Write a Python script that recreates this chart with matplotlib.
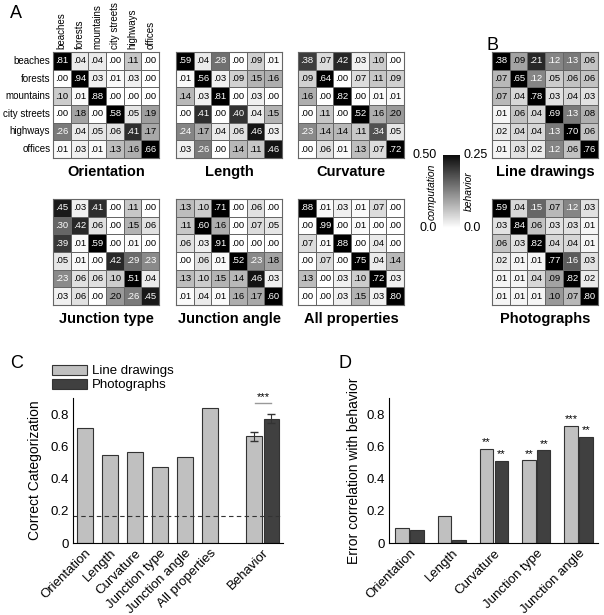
import matplotlib
matplotlib.use('Agg')
import matplotlib.pyplot as plt
import numpy as np

plt.rcParams['font.family'] = ['Liberation Sans', 'DejaVu Sans']

categories = ['beaches', 'forests', 'mountains', 'city streets', 'highways', 'offices']

orientation = [[.81, .04, .04, .00, .11, .00],
               [.00, .94, .03, .01, .03, .00],
               [.10, .01, .88, .00, .00, .00],
               [.00, .18, .00, .58, .05, .19],
               [.26, .04, .05, .06, .41, .17],
               [.01, .03, .01, .13, .16, .66]]
length = [[.59, .04, .28, .00, .09, .01],
          [.01, .56, .03, .09, .15, .16],
          [.14, .03, .81, .00, .03, .00],
          [.00, .41, .00, .40, .04, .15],
          [.24, .17, .04, .06, .46, .03],
          [.03, .26, .00, .14, .11, .46]]
curvature = [[.38, .07, .42, .03, .10, .00],
             [.09, .64, .00, .07, .11, .09],
             [.16, .00, .82, .00, .01, .01],
             [.00, .11, .00, .52, .16, .20],
             [.23, .14, .14, .11, .34, .05],
             [.00, .06, .01, .13, .07, .72]]
line_drawings = [[.38, .09, .21, .12, .13, .06],
                 [.07, .65, .12, .05, .06, .06],
                 [.07, .04, .78, .03, .04, .03],
                 [.01, .06, .04, .69, .13, .08],
                 [.02, .04, .04, .13, .70, .06],
                 [.01, .03, .02, .12, .06, .76]]
junction_type = [[.45, .03, .41, .00, .11, .00],
                 [.30, .42, .06, .00, .15, .06],
                 [.39, .01, .59, .00, .01, .00],
                 [.05, .01, .00, .42, .29, .23],
                 [.23, .06, .06, .10, .51, .04],
                 [.03, .06, .00, .20, .26, .45]]
junction_angle = [[.13, .10, .71, .00, .06, .00],
                  [.11, .60, .16, .00, .07, .05],
                  [.06, .03, .91, .00, .00, .00],
                  [.00, .06, .01, .52, .23, .18],
                  [.13, .10, .15, .14, .46, .03],
                  [.01, .04, .01, .16, .17, .60]]
all_properties = [[.88, .01, .03, .01, .07, .00],
                  [.00, .99, .00, .01, .00, .00],
                  [.07, .01, .88, .00, .04, .00],
                  [.00, .07, .00, .75, .04, .14],
                  [.13, .00, .03, .10, .72, .03],
                  [.00, .00, .03, .15, .03, .80]]
photographs = [[.59, .04, .15, .07, .12, .03],
               [.03, .84, .06, .03, .03, .01],
               [.06, .03, .82, .04, .04, .01],
               [.02, .01, .01, .77, .16, .03],
               [.01, .01, .04, .09, .82, .02],
               [.01, .01, .01, .10, .07, .80]]

# panel C
c_labels = ['Orientation', 'Length', 'Curvature', 'Junction type', 'Junction angle', 'All properties']
c_values = [0.715, 0.546, 0.566, 0.471, 0.533, 0.835]
behavior_line = 0.662
behavior_photo = 0.771
behavior_err = [0.028, 0.029]
chance = 1 / 6

# panel D
d_labels = ['Orientation', 'Length', 'Curvature', 'Junction type', 'Junction angle']
d_line = [0.091, 0.166, 0.583, 0.513, 0.728]
d_photo = [0.079, 0.021, 0.508, 0.575, 0.657]
d_stars_line = ['', '', '**', '**', '***']
d_stars_photo = ['', '', '**', '**', '**']

W, H = 604, 615
fig = plt.figure(figsize=(W / 100, H / 100), dpi=100)


def px_axes(x0, y0, x1, y1):
    return fig.add_axes([x0 / W, 1 - y1 / H, (x1 - x0) / W, (y1 - y0) / H])


def draw_matrix(box, data, vmax, title, labels=False):
    ax = px_axes(*box)
    m = np.array(data)
    ax.pcolormesh(m, cmap='gray_r', vmin=0, vmax=vmax, edgecolors='#666666', linewidth=0.6)
    ax.set_xlim(0, 6)
    ax.set_ylim(6, 0)
    for i in range(6):
        for j in range(6):
            v = m[i, j]
            col = 'white' if v / vmax > 0.45 else 'black'
            ax.text(j + 0.5, i + 0.5, f"{v:.2f}"[1:], ha='center', va='center',
                    fontsize=6.8, color=col)
    for s in ax.spines.values():
        s.set_color('#666666')
        s.set_linewidth(0.8)
    ax.set_xticks([])
    ax.set_yticks([])
    if labels:
        for i, c in enumerate(categories):
            ax.text(-0.15, i + 0.5, c, ha='right', va='center', fontsize=7)
            ax.text(i + 0.5, -0.15, c, ha='center', va='bottom', rotation=90, fontsize=7)
    ax.set_title(title, y=-0.245, fontsize=10.5, fontweight='bold')
    return ax


draw_matrix((53, 52, 159, 158), orientation, 0.5, 'Orientation', labels=True)
draw_matrix((176, 52, 282, 158), length, 0.5, 'Length')
draw_matrix((298, 52, 404, 158), curvature, 0.5, 'Curvature')
draw_matrix((492, 52, 598, 158), line_drawings, 0.25, 'Line drawings')
draw_matrix((53, 199, 159, 305), junction_type, 0.5, 'Junction type')
draw_matrix((176, 199, 282, 305), junction_angle, 0.5, 'Junction angle')
draw_matrix((298, 199, 404, 305), all_properties, 0.5, 'All properties')
draw_matrix((492, 199, 598, 305), photographs, 0.25, 'Photographs')

# colorbar
cax = px_axes(443, 155, 460, 228)
grad = np.linspace(0, 1, 256).reshape(-1, 1)
cax.imshow(grad, cmap='gray_r', vmin=0, vmax=1.05, aspect='auto', origin='lower', extent=[0, 1, 0, 1])
cax.set_xticks([])
cax.set_yticks([])
for s in cax.spines.values():
    s.set_visible(False)
cax.text(-0.35, 1.0, '0.50', ha='right', va='center', fontsize=9, transform=cax.transAxes)
cax.text(-0.35, 0.0, '0.0', ha='right', va='center', fontsize=9, transform=cax.transAxes)
cax.text(1.2, 1.0, '0.25', ha='left', va='center', fontsize=9, transform=cax.transAxes)
cax.text(1.2, 0.0, '0.0', ha='left', va='center', fontsize=9, transform=cax.transAxes)
cax.text(-0.65, 0.5, 'computation', ha='center', va='center', rotation=90, fontsize=7.5,
         style='italic', transform=cax.transAxes)
cax.text(1.55, 0.5, 'behavior', ha='center', va='center', rotation=90, fontsize=7.5,
         style='italic', transform=cax.transAxes)

light = '#c0c0c0'
dark = '#404040'
edge = '#333333'

# panel C
axc = px_axes(73, 398, 283, 543)
x = np.arange(len(c_labels))
axc.bar(x, c_values, width=0.62, color=light, edgecolor=edge, linewidth=0.8)
axc.bar(6.75, behavior_line, width=0.62, color=light, edgecolor=edge, linewidth=0.8,
        yerr=behavior_err[0], error_kw=dict(ecolor=edge, lw=0.8, capsize=3))
axc.bar(7.45, behavior_photo, width=0.62, color=dark, edgecolor=edge, linewidth=0.8,
        yerr=behavior_err[1], error_kw=dict(ecolor=edge, lw=0.8, capsize=3))
axc.axhline(chance, color='#333333', linestyle='--', dashes=(4, 3), linewidth=0.8)
axc.plot([6.8, 7.45], [0.87, 0.87], color='#999999', linewidth=1)
axc.text(7.12, 0.875, '***', ha='center', va='bottom', fontsize=8)
axc.set_xlim(-0.48, 7.92)
axc.set_ylim(0, 0.9)
axc.set_yticks([0, 0.2, 0.4, 0.6, 0.8])
axc.set_yticklabels(['0', '0.2', '0.4', '0.6', '0.8'])
axc.set_xticks(list(x) + [7.1])
axc.set_xticklabels(c_labels + ['Behavior'], rotation=45, ha='right', rotation_mode='anchor')
axc.tick_params(length=0, labelsize=9.5, pad=3)
axc.set_ylabel('Correct Categorization', fontsize=10, labelpad=6)
for s in ['top', 'right']:
    axc.spines[s].set_visible(False)
axc.legend([plt.Rectangle((0, 0), 1, 1, fc=light, ec=edge, lw=0.8),
            plt.Rectangle((0, 0), 1, 1, fc=dark, ec=edge, lw=0.8)],
           ['Line drawings', 'Photographs'], loc='lower left',
           bbox_to_anchor=(-0.13, 1.0), frameon=False, fontsize=9.5,
           handlelength=2.6, handleheight=0.8, labelspacing=0.1, borderpad=0, handletextpad=0.4)

# panel D
axd = px_axes(389, 398, 598, 543)
xd = np.arange(len(d_labels))
axd.bar(xd - 0.175, d_line, width=0.32, color=light, edgecolor=edge, linewidth=0.8)
axd.bar(xd + 0.175, d_photo, width=0.32, color=dark, edgecolor=edge, linewidth=0.8)
for i in range(len(d_labels)):
    if d_stars_line[i]:
        axd.text(xd[i] - 0.175, d_line[i] + 0.01, d_stars_line[i], ha='center', va='bottom', fontsize=8)
    if d_stars_photo[i]:
        axd.text(xd[i] + 0.175, d_photo[i] + 0.01, d_stars_photo[i], ha='center', va='bottom', fontsize=8)
axd.set_xlim(-0.485, 4.46)
axd.set_ylim(0, 0.9)
axd.set_yticks([0, 0.2, 0.4, 0.6, 0.8])
axd.set_yticklabels(['0', '0.2', '0.4', '0.6', '0.8'])
axd.set_xticks(xd)
axd.set_xticklabels(d_labels, rotation=45, ha='right', rotation_mode='anchor')
axd.tick_params(length=0, labelsize=9.5, pad=3)
axd.set_ylabel('Error correlation with behavior', fontsize=10, labelpad=4)
for s in ['top', 'right']:
    axd.spines[s].set_visible(False)

# panel letters
fig.text(10 / W, 1 - 14 / H, 'A', fontsize=13, va='center')
fig.text(487 / W, 1 - 45 / H, 'B', fontsize=13, va='center')
fig.text(10 / W, 1 - 363 / H, 'C', fontsize=13, va='center')
fig.text(338 / W, 1 - 363 / H, 'D', fontsize=13, va='center')

fig.savefig('out.png', dpi=100)
